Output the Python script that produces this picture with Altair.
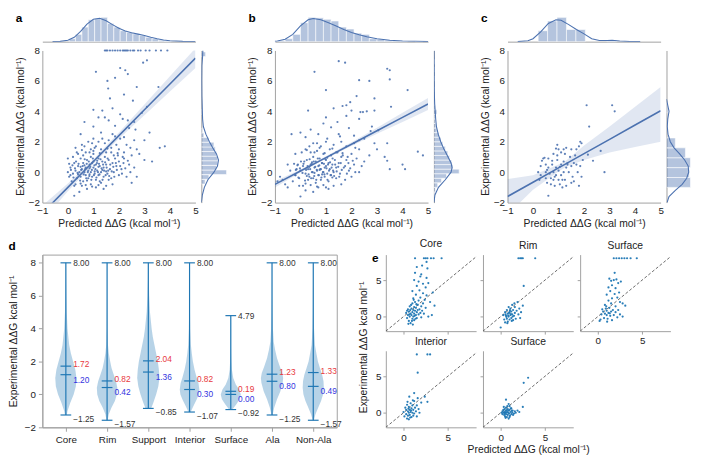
import json
import altair as alt
import pandas as pd

FONT = "Liberation Sans"
DEEP = "#4c72b0"
TAB = "#1f77b4"
GRAY = "#a0a0a0"
TXT = "#222222"
XT = "Predicted ΔΔG (kcal mol⁻¹)"
YT = "Experimental ΔΔG (kcal mol⁻¹)"
YT2 = "Experimental ΔΔG kcal mol⁻¹"

# ---------------- panel a: (predicted, experimental)
a_pts = [
    (1.45, 8), (1.5, 8), (1.55, 8), (1.65, 8), (1.75, 8), (1.85, 8), (1.95, 8), (2.05, 8), (2.15, 8), (2.2, 8),
    (2.25, 8), (2.3, 8), (2.35, 8), (2.45, 8), (2.55, 8), (2.6, 8), (2.75, 8), (2.85, 8), (3.05, 8), (3.2, 8),
    (3.45, 8), (3.65, 8), (3.9, 8),
    (2.95, 7.2), (3.1, 7.35), (2.05, 6.85), (2.25, 6.7), (1.1, 6.6), (2.35, 6.45), (1.85, 6.2), (1.55, 6.0),
    (1.58, 5.5), (2.7, 5.6), (3.55, 5.6), (1.65, 4.85), (2.2, 5.1), (2.55, 4.7), (1.0, 4.1), (1.35, 4.05),
    (1.75, 4.2), (3.1, 4.3), (2.9, 3.9), (2.05, 3.8), (1.45, 3.6), (1.2, 3.6), (2.15, 3.5), (1.6, 3.4),
    (2.35, 3.4), (0.65, 3.3), (2.6, 3.3), (1.0, 3.0), (1.85, 3.05), (2.4, 2.9), (2.65, 2.8), (3.2, 2.6),
    (0.5, 2.5), (1.3, 2.6), (1.75, 2.5), (2.2, 2.3), (2.05, 2.2), (3.6, 1.6), (3.8, 1.7), (3.0, 0.8),
    (3.3, 0.7), (3.0, 2.1), (2.7, 1.5), (2.5, 1.1), (2.8, 1.2),
    (0.3, 1.6), (0.55, 1.8), (0.8, 2.0), (1.0, 2.2), (1.2, 2.0), (1.45, 1.9), (1.6, 2.1), (1.9, 1.8),
    (2.3, 1.8), (1.1, 1.7), (0.9, 1.5), (1.3, 1.5), (1.7, 1.6), (2.0, 1.5), (0.7, 1.3), (1.5, 1.3),
    (2.2, 1.3), (0.4, 1.2), (1.0, 1.2), (1.8, 1.1),
    (0.0, 0.0), (0.1, 0.3), (0.2, -0.1), (0.25, 0.6), (0.3, 0.1), (0.35, -0.4), (0.4, 0.4), (0.45, 0.0),
    (0.5, 0.9), (0.5, -0.3), (0.55, 0.2), (0.6, 0.6), (0.6, -0.6), (0.65, 0.0), (0.7, 0.3), (0.7, -0.2),
    (0.75, 0.8), (0.8, 0.1), (0.8, -0.4), (0.85, 0.5), (0.9, 0.0), (0.9, 1.0), (0.95, -0.3), (1.0, 0.3),
    (1.0, 0.7), (1.05, -0.1), (1.1, 0.5), (1.1, -0.5), (1.15, 0.1), (1.2, 0.9), (1.2, -0.2), (1.25, 0.4),
    (1.3, 0.0), (1.35, 0.7), (1.4, -0.3), (1.4, 0.3), (1.45, 1.0), (1.5, 0.5), (1.55, -0.1), (1.6, 0.8),
    (1.65, 0.2), (1.7, -0.4), (1.75, 0.6), (1.8, 0.0), (1.85, 0.9), (1.9, 0.4), (2.0, -0.2), (2.0, 0.7),
    (2.1, 0.2), (2.2, 0.9), (2.3, -0.3), (2.4, 0.5), (2.5, -0.7), (2.6, 0.3), (2.7, -0.3), (0.15, -0.6),
    (0.3, -0.8), (0.55, -0.9), (0.75, -1.1), (0.9, -0.8), (1.1, -1.0), (1.3, -0.7), (1.5, -0.9), (1.75, -0.8),
    (0.0, 0.9), (0.05, -0.3), (0.2, 1.0), (0.6, 1.1), (1.0, 1.4), (0.45, -1.3), (0.25, -1.55), (0.85, 0.25),
    (1.35, 0.15), (1.6, -0.5), (0.95, 0.6), (1.25, -0.6), (0.65, 0.45), (1.15, 0.75), (1.5, 0.05), (0.4, -0.15),
    (0.75, -0.55), (1.05, 0.05), (1.2, 0.35), (0.5, 0.35), (0.85, -0.15),
    (0.12, 0.15), (0.18, 0.45), (0.22, -0.35), (0.28, 0.25), (0.32, 0.7), (0.38, -0.05), (0.42, 0.55),
    (0.48, -0.55), (0.52, 0.15), (0.58, 0.4), (0.62, -0.15), (0.66, 0.85), (0.68, 0.2), (0.72, -0.4), (0.74, 0.55),
    (0.78, 0.0), (0.82, 0.7), (0.84, -0.25), (0.88, 0.35), (0.92, -0.5), (0.94, 0.15), (0.98, 0.9), (1.02, -0.2),
    (1.04, 0.45), (1.08, 0.2), (1.12, -0.35), (1.14, 0.6), (1.18, 0.0), (1.22, 0.55), (1.24, -0.15), (1.28, 0.85),
    (1.32, 0.25), (1.36, -0.5), (1.38, 0.5), (1.42, 0.1), (1.46, 0.65), (1.48, -0.2), (1.52, 0.3), (1.56, 0.9),
    (1.58, 0.1), (1.62, -0.25), (1.66, 0.5), (1.72, 0.05), (1.78, 0.35), (1.82, -0.3), (1.88, 0.6), (1.92, 0.15),
    (1.96, 1.1), (2.05, 0.4), (2.12, -0.1), (2.18, 0.6), (2.25, 0.25), (2.35, 0.75), (2.45, 0.0), (0.35, 1.3),
    (0.55, 1.45), (0.85, 1.3), (1.05, 1.6), (1.25, 1.25), (1.55, 1.55), (1.7, 1.3), (1.95, 1.25), (0.5, -0.75),
    (0.7, -0.85), (0.95, -0.95), (1.2, -0.85), (1.4, -1.1), (0.25, -0.9), (0.1, -0.2), (0.05, 0.55), (0.65, 1.7),
    (0.95, 1.9), (1.35, 2.2), (1.85, 2.35), (2.45, 1.6), (2.6, 2.1), (2.15, 1.0),
]
a_fit_x = [-1, 0, 1, 2, 3, 4, 5]
a_fit_y = [-2.7, -1.0, 0.7, 2.4, 4.1, 5.8, 7.5]
a_fit_lo = [-3.2, -1.25, 0.55, 2.2, 3.75, 5.3, 6.85]
a_fit_hi = [-2.2, -0.75, 0.85, 2.6, 4.45, 6.3, 8.15]
a_top_start = [0.05, 0.3, 0.55, 0.8, 1.05, 1.3, 1.55, 1.8, 2.05, 2.3, 2.55, 2.8, 3.05, 3.3, 3.55, 3.8]
a_top_width = 0.25
a_top_h = [0.12, 0.3, 0.6, 0.9, 0.95, 1.0, 0.75, 0.6, 0.45, 0.38, 0.32, 0.25, 0.18, 0.12, 0.06, 0.03]
a_top_kx = [-0.6, -0.3, 0, 0.25, 0.5, 0.75, 1.0, 1.25, 1.5, 1.75, 2.0, 2.25, 2.5, 2.75, 3.0, 3.25, 3.5, 3.75, 4.0, 4.5, 5.0]
a_top_ky = [0, 0.01, 0.06, 0.18, 0.42, 0.72, 0.92, 0.96, 0.86, 0.7, 0.55, 0.44, 0.37, 0.31, 0.25, 0.18, 0.12, 0.07, 0.04, 0.01, 0.0]
a_right_start = [-0.78, -0.47, -0.16, 0.14, 0.45, 0.75, 1.05, 1.36, 1.66, 1.97, 2.27, 2.57, 3.8, 7.6]
a_right_width = 0.305
a_right_h = [0.15, 0.3, 1.0, 0.6, 0.65, 0.65, 0.6, 0.55, 0.5, 0.3, 0.1, 0.04, 0.05, 0.17]
a_right_ky = [-2, -1.5, -1.0, -0.5, 0, 0.4, 0.8, 1.2, 1.6, 2.0, 2.5, 3.0, 3.5, 4.0, 5, 6, 7, 7.6, 8]
a_right_kd = [0.0, 0.04, 0.12, 0.26, 0.5, 0.64, 0.68, 0.6, 0.45, 0.32, 0.18, 0.08, 0.05, 0.04, 0.02, 0.015, 0.02, 0.05, 0.06]

# ---------------- panel b
b_pts = [
    (1.5, 7.3), (1.75, 7.2), (0.55, 6.6), (3.4, 6.8), (3.5, 6.7), (3.5, 6.1), (2.3, 6.05), (2.7, 6.0), (1.0, 5.4),
    (4.2, 5.4), (2.2, 5.0), (2.9, 4.85), (1.95, 4.6), (1.3, 4.2), (0.3, 4.05), (1.65, 4.35), (1.8, 4.4), (2.0, 4.05),
    (2.35, 3.95), (2.45, 3.95), (2.6, 4.0), (3.55, 4.3), (2.9, 4.05), (1.8, 3.7), (2.3, 3.5), (1.0, 3.6), (1.45, 3.3),
    (0.9, 3.2), (2.8, 3.0), (3.05, 2.75), (2.75, 2.7), (1.9, 2.9), (1.2, 2.95), (0.4, 2.8), (0.0, 2.6), (-0.35, 2.5),
    (0.2, 2.3), (0.7, 2.5), (1.5, 2.5), (2.1, 2.4), (2.5, 2.2), (2.9, 1.9), (3.0, 1.5), (3.3, 1.0), (3.4, 1.9),
    (4.6, 1.35), (4.8, 1.1), (4.0, 0.5), (3.5, 0.2), (4.1, 0.2), (3.4, 0.75), (2.7, 1.1), (2.5, 0.7), (2.3, 1.5),
    (2.1, 1.9), (1.8, 1.7), (1.6, 2.0), (1.3, 1.8), (1.0, 2.0), (0.8, 1.7), (0.5, 1.9), (0.2, 1.5), (-0.2, 1.2),
    (-0.5, 0.5), (-0.6, -0.8), (-0.5, -1.0), (-0.3, -0.6), (-0.4, 0.1), (-0.2, -0.2), (-0.1, 0.5), (0.0, -1.6),
    (0.2, -1.2), (0.5, -1.3), (0.1, -0.9), (0.3, -0.5), (0.0, 0.1), (0.1, 0.4), (0.2, -0.1), (0.25, 0.8), (0.3, 0.2),
    (0.35, -0.3), (0.4, 0.5), (0.45, 0.0), (0.5, 1.0), (0.5, -0.4), (0.55, 0.3), (0.6, 0.7), (0.6, -0.7), (0.65, 0.1),
    (0.7, 0.4), (0.7, -0.2), (0.75, 0.9), (0.8, 0.2), (0.8, -0.5), (0.85, 0.6), (0.9, 0.0), (0.9, 1.2), (0.95, -0.3),
    (1.0, 0.4), (1.0, 0.8), (1.05, -0.1), (1.1, 0.6), (1.1, -0.6), (1.15, 0.2), (1.2, 1.1), (1.2, -0.2), (1.25, 0.5),
    (1.3, 0.0), (1.35, 0.8), (1.4, -0.4), (1.4, 0.3), (1.45, 1.3), (1.5, 0.6), (1.55, -0.1), (1.6, 1.0), (1.7, 0.3),
    (1.75, -0.5), (1.8, 0.8), (1.9, 0.1), (2.0, 1.2), (2.0, -0.3), (2.1, 0.5), (2.2, 0.9), (2.3, 0.0), (2.4, 0.4),
    (1.0, -1.0), (1.3, -0.9), (0.7, -1.0), (1.6, -0.8), (0.15, 0.7), (-0.05, -0.4), (0.4, 1.3), (0.65, 1.4),
    (1.15, 1.5), (0.85, -0.15), (0.35, 0.35), (0.55, -0.05), (0.75, 0.15), (0.95, 0.3), (1.25, -0.35), (1.05, 0.95),
    (0.45, 0.65), (0.25, -0.25), (-0.15, 0.2), (-0.7, -0.5), (-0.8, -0.3), (-0.9, -0.6),
    (-0.18, 0.15), (-0.12, 0.45), (-0.08, -0.35), (-0.02, 0.25), (0.02, 0.7), (0.08, -0.05), (0.12, 0.55),
    (0.18, -0.55), (0.22, 0.15), (0.28, 0.4), (0.32, -0.15), (0.36, 0.85), (0.38, 0.2), (0.42, -0.4), (0.44, 0.55),
    (0.48, 0.0), (0.52, 0.7), (0.54, -0.25), (0.58, 0.35), (0.62, -0.5), (0.64, 0.15), (0.68, 0.9), (0.72, -0.2),
    (0.74, 0.45), (0.78, 0.2), (0.82, -0.35), (0.84, 0.6), (0.88, 0.0), (0.92, 0.55), (0.94, -0.15), (0.98, 0.85),
    (1.02, 0.25), (1.06, -0.5), (1.08, 0.5), (1.12, 0.1), (1.16, 0.65), (1.18, -0.2), (1.22, 0.3), (1.26, 0.9),
    (1.28, 0.1), (1.32, -0.25), (1.36, 0.5), (1.42, 0.05), (1.48, 0.35), (1.52, -0.3), (1.58, 0.6), (1.62, 0.15),
    (1.66, 1.1), (1.75, 0.4), (1.82, -0.1), (1.88, 0.6), (1.95, 0.25), (2.05, 0.75), (2.15, 0.0), (0.05, 1.3),
    (0.25, 1.45), (0.55, 1.3), (0.75, 1.6), (0.95, 1.25), (1.25, 1.55), (1.4, 1.3), (1.65, 1.25), (0.2, -0.75),
    (0.4, -0.85), (0.65, -0.95), (0.9, -0.85), (1.1, -1.1), (-0.05, -0.9), (-0.2, -0.2), (-0.25, 0.55), (0.35, 1.7),
    (0.65, 1.9), (1.05, 2.2), (1.55, 2.35), (2.15, 1.6), (2.3, 2.1), (1.85, 1.0),
]
b_fit_x = [-1, 0, 1, 2, 3, 4, 5]
b_fit_y = [-0.8, 0.08, 0.96, 1.84, 2.72, 3.6, 4.48]
b_fit_lo = [-1.0, -0.02, 0.88, 1.72, 2.52, 3.3, 4.08]
b_fit_hi = [-0.6, 0.18, 1.04, 1.96, 2.92, 3.9, 4.88]
b_top_start = [-0.9, -0.6, -0.3, 0.0, 0.3, 0.6, 0.9, 1.2, 1.5, 1.8, 2.1, 2.4, 2.7, 3.0, 3.3, 3.6, 3.9, 4.5]
b_top_width = 0.3
b_top_h = [0.05, 0.12, 0.3, 0.78, 1.0, 0.98, 0.92, 0.85, 0.6, 0.52, 0.35, 0.3, 0.12, 0.1, 0.06, 0.04, 0.02, 0.02]
b_top_kx = [-1.2, -0.9, -0.6, -0.3, 0, 0.3, 0.5, 0.8, 1.1, 1.4, 1.7, 2.0, 2.3, 2.6, 3.0, 3.5, 4.0, 4.5, 5.0]
b_top_ky = [0.0, 0.03, 0.1, 0.3, 0.65, 0.9, 0.95, 0.9, 0.78, 0.64, 0.5, 0.38, 0.28, 0.2, 0.12, 0.06, 0.03, 0.015, 0.005]
b_right_start = [-1.6, -1.3, -1.0, -0.7, -0.4, -0.1, 0.2, 0.5, 0.8, 1.1, 1.4, 1.7, 2.0, 2.3, 2.6, 2.9, 3.2, 3.5,
                 3.8, 4.1, 4.4, 5.3, 6.0, 6.6, 7.1]
b_right_width = 0.3
b_right_h = [0.03, 0.06, 0.15, 0.3, 0.5, 1.0, 0.75, 0.7, 0.62, 0.55, 0.45, 0.35, 0.28, 0.2, 0.12, 0.08, 0.05, 0.04,
             0.12, 0.05, 0.03, 0.02, 0.03, 0.03, 0.02]
b_right_ky = [-2, -1.5, -1, -0.5, 0, 0.3, 0.6, 1, 1.5, 2, 2.5, 3, 3.5, 4, 4.5, 5, 6, 7, 8]
b_right_kd = [0, 0.04, 0.18, 0.45, 0.68, 0.72, 0.68, 0.56, 0.4, 0.27, 0.17, 0.1, 0.07, 0.05, 0.03, 0.02, 0.01, 0.01, 0]

# ---------------- panel c
c_pts = [
    (2.1, 4.4), (3.1, 4.4), (3.2, 4.0), (2.2, 3.0), (2.65, 1.4), (2.8, 0.0), (2.35, 0.75), (2.15, 1.15), (1.85, 2.0),
    (1.9, 1.9), (1.8, 1.7), (1.7, 1.5), (1.5, 1.5), (1.3, 1.6), (1.2, 1.5), (0.95, 1.8), (0.9, 1.55), (1.0, 1.5),
    (1.1, 1.3), (0.8, 1.2), (0.4, 0.9), (0.3, 0.4), (0.2, 0.0), (0.25, -0.5), (0.35, 0.75), (0.5, 0.5), (0.5, 0.0),
    (0.5, -0.4), (0.55, -0.7), (0.6, 0.9), (0.6, 0.3), (0.65, -0.1), (0.7, -0.4), (0.7, -0.8), (0.75, 0.5), (0.8, 0.0),
    (0.8, -0.5), (0.85, -0.9), (0.9, 0.3), (0.9, -0.2), (0.95, 0.8), (1.0, -0.5), (1.0, 0.1), (1.05, -0.8), (1.1, 0.5),
    (1.1, -0.2), (1.15, -1.0), (1.2, 0.7), (1.2, 0.0), (1.25, -0.5), (1.3, 0.3), (1.3, -0.9), (1.35, 0.6), (1.4, 0.0),
    (1.45, 1.0), (1.5, 0.4), (1.55, -0.3), (1.6, 0.6), (1.6, -0.6), (1.7, 0.5), (1.75, 0.0), (1.8, -0.9), (1.85, 0.4),
    (1.9, -0.3), (1.95, 0.8), (0.6, -1.55), (0.45, 0.95), (0.95, 1.1), (1.35, 0.5), (1.65, 1.1), (0.3, -0.2),
    (0.75, 0.75), (1.05, 0.35), (1.25, 1.2), (0.55, 0.15), (1.5, -0.7), (0.85, -0.3), (1.15, -0.5),
]
c_fit_x = [-1, 0, 1, 1.3, 2, 3, 4, 5]
c_fit_y = [-1.6, -0.66, 0.28, 0.56, 1.22, 2.16, 3.1, 4.04]
c_fit_lo = [-2.8, -1.15, 0.05, 0.36, 0.8, 1.3, 1.65, 2.0]
c_fit_hi = [-0.45, -0.2, 0.5, 0.76, 1.75, 3.0, 4.3, 5.6]
c_top_start = [0.2, 0.57, 0.94, 1.31, 1.68, 2.9]
c_top_width = 0.37
c_top_h = [0.45, 0.85, 1.0, 0.5, 0.5, 0.04]
c_top_kx = [-0.6, -0.2, 0, 0.3, 0.6, 0.9, 1.1, 1.4, 1.7, 2.0, 2.3, 2.6, 2.9, 3.1, 3.4, 3.8, 4.2]
c_top_ky = [0, 0.04, 0.12, 0.4, 0.75, 0.9, 0.88, 0.7, 0.5, 0.32, 0.12, 0.05, 0.05, 0.06, 0.03, 0.005, 0]
c_right_start = [-1.0, -0.35, 0.3, 0.95, 1.6, 3.9]
c_right_width = 0.65
c_right_h = [0.95, 0.9, 0.95, 0.75, 0.35, 0.05]
c_right_ky = [-2, -1.6, -1.2, -0.8, -0.4, 0, 0.4, 0.8, 1.2, 1.6, 2.0, 2.5, 3, 3.5, 4, 4.4, 4.8]
c_right_kd = [0.02, 0.1, 0.35, 0.62, 0.8, 0.88, 0.86, 0.72, 0.52, 0.3, 0.15, 0.06, 0.03, 0.05, 0.1, 0.05, 0.0]

# ---------------- panel d: violins
d_cats = ["Core", "Rim", "Support", "Interior", "Surface", "Ala", "Non-Ala"]
d_max = [8.00, 8.00, 8.00, 8.00, 4.79, 8.00, 8.00]
d_min = [-1.25, -1.57, -0.85, -1.07, -0.92, -1.25, -1.57]
d_mean = [1.72, 0.82, 2.04, 0.82, 0.19, 1.23, 1.33]
d_median = [1.20, 0.42, 1.36, 0.30, 0.00, 0.80, 0.49]
violin_y = [
    [-1.25, -1, -0.5, 0, 0.5, 1, 1.5, 2, 2.5, 3, 4, 5, 6, 7, 8],
    [-1.57, -1.2, -0.8, -0.4, 0, 0.4, 0.8, 1.2, 1.6, 2, 2.5, 3, 4, 5, 6, 7, 8],
    [-0.85, -0.5, 0, 0.5, 1, 1.5, 2, 2.5, 3, 3.5, 4, 5, 6, 7, 8],
    [-1.07, -0.7, -0.3, 0, 0.3, 0.7, 1, 1.5, 2, 2.5, 3, 4, 5, 6, 7, 8],
    [-0.92, -0.6, -0.3, 0, 0.3, 0.6, 1, 1.5, 2, 2.5, 3, 3.5, 4, 4.79],
    [-1.25, -0.8, -0.3, 0.2, 0.7, 1.0, 1.3, 1.7, 2.2, 2.7, 3.2, 4, 5, 6, 7, 8],
    [-1.57, -1.2, -0.8, -0.4, 0, 0.4, 0.8, 1.2, 1.6, 2, 2.5, 3, 4, 5, 6, 7, 8],
]
violin_w = [
    [0.08, 0.15, 0.4, 0.7, 0.9, 0.95, 0.85, 0.65, 0.45, 0.3, 0.15, 0.08, 0.05, 0.03, 0.02],
    [0.05, 0.15, 0.4, 0.7, 0.88, 0.92, 0.8, 0.6, 0.4, 0.28, 0.15, 0.08, 0.04, 0.03, 0.02, 0.02, 0.02],
    [0.25, 0.45, 0.7, 0.9, 1.0, 0.95, 0.85, 0.7, 0.55, 0.4, 0.3, 0.15, 0.08, 0.04, 0.03],
    [0.1, 0.35, 0.65, 0.82, 0.88, 0.8, 0.65, 0.45, 0.3, 0.2, 0.12, 0.06, 0.04, 0.03, 0.02, 0.02],
    [0.15, 0.5, 0.8, 0.9, 0.75, 0.45, 0.22, 0.1, 0.06, 0.04, 0.03, 0.03, 0.03, 0.02],
    [0.05, 0.2, 0.45, 0.75, 0.95, 1.0, 0.92, 0.7, 0.45, 0.28, 0.15, 0.08, 0.05, 0.03, 0.02, 0.02],
    [0.05, 0.2, 0.45, 0.7, 0.88, 0.95, 0.92, 0.8, 0.6, 0.42, 0.28, 0.15, 0.07, 0.04, 0.03, 0.02, 0.02],
]

# ---------------- panel e: per-location scatter
e_core = [
    (1.3, 8), (2.3, 8), (2.5, 8), (2.7, 8), (3.1, 8), (3.4, 8), (4.3, 8),
    (2.6, 7.5), (1.5, 6.8), (2.1, 7.0), (2.7, 6.6), (1.3, 6.0), (2.0, 5.8), (1.9, 5.5), (2.6, 5.3), (1.2, 5.0),
    (1.7, 4.8), (2.2, 4.5), (2.8, 4.6), (1.5, 4.2), (2.5, 4.0), (3.3, 3.3), (1.0, 3.5), (1.8, 3.6), (2.2, 3.2),
    (1.4, 3.0), (2.6, 2.9), (1.1, 2.5), (1.9, 2.6), (2.4, 2.3), (3.0, 2.0), (3.5, 1.5), (3.2, 0.2), (2.8, 0.0),
    (0.3, 0.5), (0.4, -0.2), (0.5, 1.0), (0.5, 0.2), (0.6, -0.6), (0.6, 0.7), (0.7, 1.4), (0.7, 0.0), (0.8, 0.4),
    (0.8, -0.9), (0.9, 1.1), (0.9, 0.2), (1.0, 0.6), (1.0, -0.3), (1.0, 1.8), (1.1, 0.9), (1.1, 0.0), (1.2, 1.3),
    (1.2, 0.4), (1.2, -0.5), (1.3, 0.8), (1.3, 2.0), (1.4, 0.2), (1.4, 1.2), (1.5, 0.6), (1.5, -0.2), (1.6, 1.6),
    (1.6, 0.9), (1.7, 0.3), (1.7, 2.2), (1.8, 1.0), (1.9, 0.5), (2.0, 1.4), (2.0, -0.1), (2.1, 0.8), (2.2, 1.8),
    (2.3, 0.4), (2.5, 1.2), (0.4, 0.8), (0.55, -1.0), (0.85, 1.6), (1.15, 2.3), (1.05, -1.1), (0.75, 0.9),
    (0.95, -0.6), (1.35, -0.3), (1.45, 1.7), (1.25, 0.1), (0.65, 0.3),
]
e_rim = [
    (2.0, 8), (2.2, 8), (2.35, 8), (2.5, 8), (3.9, 8), (2.6, 4.2),
    (0.0, -1.5), (0.3, 0.2), (0.4, -0.4), (0.5, 0.6), (0.5, -0.8), (0.6, 0.1), (0.7, 0.9), (0.7, -0.3), (0.8, 0.4),
    (0.8, -0.7), (0.9, 1.3), (0.9, 0.0), (1.0, 0.6), (1.0, -0.4), (1.1, 0.2), (1.1, 1.1), (1.2, -0.2), (1.2, 0.7),
    (1.3, 0.3), (1.3, 1.6), (1.4, -0.5), (1.4, 0.9), (1.5, 0.1), (1.6, 1.3), (1.6, 0.5), (1.7, -0.3), (1.8, 0.8),
    (1.9, 2.0), (2.0, 0.3), (2.1, 1.1), (2.3, 0.6), (2.5, 1.5), (0.55, 0.3), (0.85, 0.15), (1.05, 0.85),
    (1.25, -0.6), (0.65, -0.05), (0.95, 0.5), (1.15, 0.35), (1.35, 0.0), (1.55, 1.8), (0.75, -0.9), (2.2, -0.2),
]
e_surface_top = [
    (1.8, 8), (2.1, 8), (2.4, 8), (2.7, 8), (3.0, 8), (3.3, 8), (3.7, 8), (4.4, 8),
    (1.9, 6.0), (1.3, 5.2), (1.5, 4.9), (1.8, 5.0), (2.1, 5.1), (2.3, 4.6), (1.6, 4.3), (2.6, 4.8), (1.2, 4.0),
    (2.0, 3.9), (1.4, 3.5), (2.4, 3.3), (1.0, 3.0), (1.9, 3.1), (2.2, 2.6), (1.6, 2.5), (2.5, 2.0), (2.8, 1.8),
    (3.1, 1.5), (2.0, 1.4), (1.5, 1.8), (1.2, 2.2), (0.8, 1.6), (0.5, 1.0), (0.4, 0.3), (0.6, 0.7), (0.7, -0.2),
    (0.8, 0.4), (0.9, 1.1), (1.0, 0.2), (1.0, 0.8), (1.1, -0.3), (1.2, 0.5), (1.3, 1.2), (1.4, 0.1), (1.5, 0.7),
    (1.6, -0.5), (1.7, 0.9), (1.8, 0.2), (2.0, 0.6), (2.2, -0.1), (2.5, 0.3), (2.8, 0.0), (0.2, -0.6), (0.3, -0.4),
    (1.05, -0.7), (1.35, 0.45), (0.95, 1.4), (2.3, 0.9),
]
e_interior = [
    (1.5, 8), (2.7, 8), (3.0, 8), (1.6, 5.5), (1.2, 2.7), (2.4, 2.2), (2.7, 1.5), (2.0, 1.4), (1.6, 2.0),
    (0.0, 0.1), (0.1, -0.5), (0.2, 0.7), (0.3, -0.2), (0.3, 0.4), (0.4, -0.8), (0.4, 1.1), (0.5, 0.2), (0.5, -0.4),
    (0.6, 0.8), (0.6, 0.0), (0.6, -0.9), (0.7, 0.4), (0.7, -0.3), (0.8, 1.3), (0.8, 0.1), (0.9, -0.6), (0.9, 0.6),
    (1.0, 0.0), (1.0, 1.0), (1.1, -0.4), (1.1, 0.4), (1.2, 1.6), (1.2, -0.1), (1.3, 0.7), (1.4, 0.2), (1.5, -0.5),
    (1.5, 1.0), (1.7, 0.5), (1.8, 0.0), (0.55, 0.55), (0.75, -0.65), (0.85, 0.3), (0.45, 1.5), (0.65, 2.2),
    (1.05, 1.7),
]
e_surface_bottom = [
    (3.1, 4.8), (2.6, 4.1), (0.6, 1.8), (2.5, 0.8), (2.1, 0.1), (1.9, 0.3), (1.6, 0.2), (1.4, -0.3), (1.2, 0.6),
    (1.0, 0.9), (0.9, 1.2), (0.1, 0.0), (0.2, 0.2), (0.2, -0.2), (0.3, 0.0), (0.3, 0.4), (0.4, -0.3), (0.4, 0.1),
    (0.45, 0.5), (0.5, -0.5), (0.5, 0.0), (0.55, 0.25), (0.6, -0.2), (0.6, 0.7), (0.65, 0.05), (0.7, -0.6),
    (0.7, 0.35), (0.75, 0.1), (0.8, -0.3), (0.8, 0.5), (0.85, 0.0), (0.9, -0.8), (0.9, 0.3), (0.95, -0.1),
    (1.0, 0.4), (1.05, -0.4), (1.1, 0.1), (1.15, 0.6), (1.2, -0.2), (1.3, 0.0), (1.35, 0.3), (1.5, -0.1),
    (1.7, 0.0), (0.35, 0.8), (0.55, -0.7), (0.75, 0.9), (1.0, -0.6), (1.25, 0.25), (0.45, -0.05),
]
diag_vals = [-2, 9]

# ================= layout constants (styling only)
W, H, M, TOPH = 156, 155, 27, 26
XS = alt.Scale(domain=[-1, 5], nice=False, zero=False)
YS = alt.Scale(domain=[-2, 8], nice=False, zero=False)
HS = alt.Scale(domain=[0, 1.05], nice=False, zero=True)


def joint(letter, pts, fx, fy, flo, fhi, ts, tw, th, tkx, tky, rs, rw, rh, rky, rkd):
    pdf = pd.DataFrame(pts, columns=["x", "y"])
    fdf = pd.DataFrame({"x": fx, "fit": fy, "lo": flo, "hi": fhi})
    xa = alt.Axis(values=[-1, 0, 1, 2, 3, 4, 5], title=XT, ticks=False, labelPadding=3, titlePadding=3,
                  labelFlush=False, domainColor=GRAY, minExtent=0)
    ya = alt.Axis(values=[-2, 0, 2, 4, 6, 8], title=None, ticks=False, labelPadding=3, domainColor=GRAY,
                  minExtent=0)
    band = alt.Chart(fdf).mark_area(color=DEEP, opacity=0.17, clip=True).encode(
        x=alt.X("x:Q", scale=XS, axis=xa), y=alt.Y("lo:Q", scale=YS, axis=ya), y2="hi:Q")
    line = alt.Chart(fdf).mark_line(color=DEEP, strokeWidth=1.6, clip=True).encode(
        x=alt.X("x:Q", scale=XS, axis=xa), y=alt.Y("fit:Q", scale=YS, axis=ya))
    dots = alt.Chart(pdf).mark_circle(color=DEEP, size=5, opacity=0.9).encode(
        x=alt.X("x:Q", scale=XS, axis=xa), y=alt.Y("y:Q", scale=YS, axis=ya))
    ytitle = alt.Chart(pd.DataFrame({"t": [YT]})).mark_text(
        angle=270, baseline="top", align="center", fontSize=10.5, color=TXT).encode(
        text="t:N", x=alt.value(-27), y=alt.value(H / 2))
    main = alt.layer(band, line, dots, ytitle).properties(width=W, height=H)

    tdf = pd.DataFrame({"lo": ts, "h": th})
    tdf["hi"] = tdf["lo"] + tw
    kt = pd.DataFrame({"kx": tkx, "ky": tky})
    txa = alt.Axis(labels=False, ticks=False, title=None, domainColor=GRAY, minExtent=0)
    tb = alt.Chart(tdf).mark_rect(fill=DEEP, fillOpacity=0.42, stroke="white", strokeWidth=0.6).encode(
        x=alt.X("lo:Q", scale=XS, axis=txa), x2="hi:Q",
        y=alt.Y("h:Q", scale=HS, axis=None), y2=alt.Y2Datum(0))
    tk = alt.Chart(kt).mark_line(color=DEEP, strokeWidth=1.1, clip=True).encode(
        x=alt.X("kx:Q", scale=XS, axis=txa), y=alt.Y("ky:Q", scale=HS, axis=None))
    let = alt.Chart(pd.DataFrame({"t": [letter]})).mark_text(
        align="left", baseline="top", fontSize=12, fontWeight="bold", color="black").encode(
        text="t:N", x=alt.value(-27), y=alt.value(-3))
    top = alt.layer(tb, tk, let).properties(width=W, height=TOPH)

    rdf = pd.DataFrame({"lo": rs, "h": rh})
    rdf["hi"] = rdf["lo"] + rw
    kr = pd.DataFrame({"ky": rky, "kd": rkd})
    rya = alt.Axis(labels=False, ticks=False, title=None, domainColor=GRAY, minExtent=0)
    rb = alt.Chart(rdf).mark_rect(fill=DEEP, fillOpacity=0.42, stroke="white", strokeWidth=0.6, clip=True).encode(
        y=alt.Y("lo:Q", scale=YS, axis=rya), y2="hi:Q",
        x=alt.X("h:Q", scale=HS, axis=None), x2=alt.X2Datum(0))
    rk = alt.Chart(kr).mark_line(color=DEEP, strokeWidth=1.1, clip=True).encode(
        y=alt.Y("ky:Q", scale=YS, axis=rya), x=alt.X("kd:Q", scale=HS, axis=None), order=alt.Order("ky:Q"))
    right = alt.layer(rb, rk).properties(width=M, height=H)

    return alt.vconcat(top, alt.hconcat(main, right, spacing=3), spacing=3)


ja = joint("a", a_pts, a_fit_x, a_fit_y, a_fit_lo, a_fit_hi, a_top_start, a_top_width, a_top_h, a_top_kx,
           a_top_ky, a_right_start, a_right_width, a_right_h, a_right_ky, a_right_kd)
jb = joint("b", b_pts, b_fit_x, b_fit_y, b_fit_lo, b_fit_hi, b_top_start, b_top_width, b_top_h, b_top_kx,
           b_top_ky, b_right_start, b_right_width, b_right_h, b_right_ky, b_right_kd)
jc = joint("c", c_pts, c_fit_x, c_fit_y, c_fit_lo, c_fit_hi, c_top_start, c_top_width, c_top_h, c_top_kx,
           c_top_ky, c_right_start, c_right_width, c_right_h, c_right_ky, c_right_kd)
top_row = alt.hconcat(ja, jb, jc, spacing=20)

# ================= panel d
VW = 0.27      # half-width scale of violins (category units)
CAP = 0.13     # half-length of horizontal bars
XD = alt.Scale(domain=[-0.57, 6.57], nice=False, zero=False)
YD = alt.Scale(domain=[-2, 8.5], nice=False, zero=False)
xad = alt.Axis(values=list(range(len(d_cats))), labelExpr=json.dumps(d_cats) + "[datum.value]", title=None,
               tickSize=4, labelPadding=3, labelFlush=False, domainColor=GRAY, tickColor=GRAY)
yad = alt.Axis(values=[-2, 0, 2, 4, 6, 8], title=YT2, tickSize=4, labelPadding=3, titlePadding=6,
               domainColor=GRAY, tickColor=GRAY)

# violin outlines: up the left side, down the right side
vrows = []
for i, (name, ys, ws) in enumerate(zip(d_cats, violin_y, violin_w)):
    n = len(ys)
    for k, (yv, wv) in enumerate(zip(ys, ws)):
        vrows.append({"cat": name, "seq": k, "y": yv, "x": i - wv * VW})
    for k, (yv, wv) in enumerate(zip(ys[::-1], ws[::-1])):
        vrows.append({"cat": name, "seq": n + k, "y": yv, "x": i + wv * VW})
vdf = pd.DataFrame(vrows)

fmt = lambda v: f"{v:.2f}".replace("-", "−")
rng = pd.DataFrame({"i": list(range(len(d_cats))), "mn": d_min, "mx": d_max})
stat_rows = []
for i in range(len(d_cats)):
    for kind, v in (("max", d_max[i]), ("min", d_min[i]), ("mean", d_mean[i]), ("median", d_median[i])):
        stat_rows.append({"kind": kind, "v": v, "l": i - CAP, "r": i + CAP, "lab": fmt(v)})
sdf = pd.DataFrame(stat_rows)

violins = alt.Chart(vdf).mark_line(filled=True, fill=TAB, fillOpacity=0.32, strokeWidth=0).encode(
    x=alt.X("x:Q", scale=XD, axis=xad), y=alt.Y("y:Q", scale=YD, axis=yad),
    detail="cat:N", order=alt.Order("seq:Q"))
vline = alt.Chart(rng).mark_rule(color=TAB, strokeWidth=1.2).encode(
    x=alt.X("i:Q", scale=XD, axis=xad), y=alt.Y("mn:Q", scale=YD, axis=yad), y2="mx:Q")
caps = alt.Chart(sdf).mark_rule(color=TAB, strokeWidth=1.2).encode(
    x=alt.X("l:Q", scale=XD, axis=xad), x2="r:Q", y=alt.Y("v:Q", scale=YD, axis=yad))


def stat_text(kind, color, dy):
    return alt.Chart(sdf).transform_filter(alt.datum.kind == kind).mark_text(
        align="left", baseline="middle", fontSize=8.5, color=color, dx=2, dy=dy).encode(
        x=alt.X("r:Q", scale=XD, axis=xad), y=alt.Y("v:Q", scale=YD, axis=yad), text="lab:N")


d_chart = alt.layer(
    violins, vline, caps,
    stat_text("max", "#333333", 0), stat_text("min", "#333333", 4),
    stat_text("mean", "#e8383d", -2), stat_text("median", "#3434e0", 5),
).properties(width=300, height=176, view=alt.ViewBackground(stroke=GRAY),
             title=alt.TitleParams("d", anchor="start", frame="bounds", fontSize=12, fontWeight="bold",
                                   offset=2, color="black"))

# ================= panel e
EW, EH = 92, 78
XE = alt.Scale(domain=[-2, 8.2], nice=False, zero=False)
YE = alt.Scale(domain=[-2, 8.5], nice=False, zero=False)


def epanel(name, pts, xlab, ylab, xtitle=None, letter=None):
    pdf = pd.DataFrame(pts, columns=["x", "y"])
    xa = alt.Axis(values=[0, 5], labels=xlab, tickSize=3, labelPadding=2, title=xtitle, titlePadding=3,
                  labelFlush=False, domainColor=GRAY, tickColor=GRAY, minExtent=0)
    ya = alt.Axis(values=[0, 5], labels=ylab, tickSize=3, labelPadding=2, title=None, domainColor=GRAY,
                  tickColor=GRAY, minExtent=0)
    diag = alt.Chart(pd.DataFrame({"v": diag_vals})).mark_line(
        color="#444444", strokeDash=[3, 2], strokeWidth=0.8, clip=True).encode(
        x=alt.X("v:Q", scale=XE, axis=xa), y=alt.Y("v:Q", scale=YE, axis=ya))
    dots = alt.Chart(pdf).mark_circle(color=TAB, size=5, opacity=0.95).encode(
        x=alt.X("x:Q", scale=XE, axis=xa), y=alt.Y("y:Q", scale=YE, axis=ya))
    layers = [diag, dots]
    if letter:
        layers.append(alt.Chart(pd.DataFrame({"t": [letter]})).mark_text(
            align="left", baseline="top", fontSize=12, fontWeight="bold", color="black").encode(
            text="t:N", x=alt.value(-14), y=alt.value(-1)))
    return alt.layer(*layers).properties(
        width=EW, height=EH, title=alt.TitleParams(name, fontSize=10.5, fontWeight="normal", offset=3))


e_grid = alt.concat(
    epanel("Core", e_core, False, True, letter="e"),
    epanel("Rim", e_rim, False, False),
    epanel("Surface", e_surface_top, True, False),
    epanel("Interior", e_interior, True, True),
    epanel("Surface", e_surface_bottom, True, False, xtitle=XT),
    columns=3, spacing={"row": 20, "column": 7}, bounds="flush",
    title=alt.TitleParams(YT2, orient="left", anchor="middle", fontSize=10.5, fontWeight="normal", offset=3),
)

bottom_row = alt.hconcat(d_chart, e_grid, spacing=16)

chart = alt.vconcat(top_row, bottom_row, spacing=10).properties(padding=0).configure(
    font=FONT).configure_view(stroke=None).configure_axis(
    labelFontSize=10, titleFontSize=10.5, labelColor=TXT, titleColor=TXT, grid=False,
    titleFontWeight="normal", labelFont=FONT, titleFont=FONT).configure_title(
    font=FONT, color=TXT).configure_text(font=FONT)

chart.save("out.html", embed_options={"renderer": "svg", "actions": False})
